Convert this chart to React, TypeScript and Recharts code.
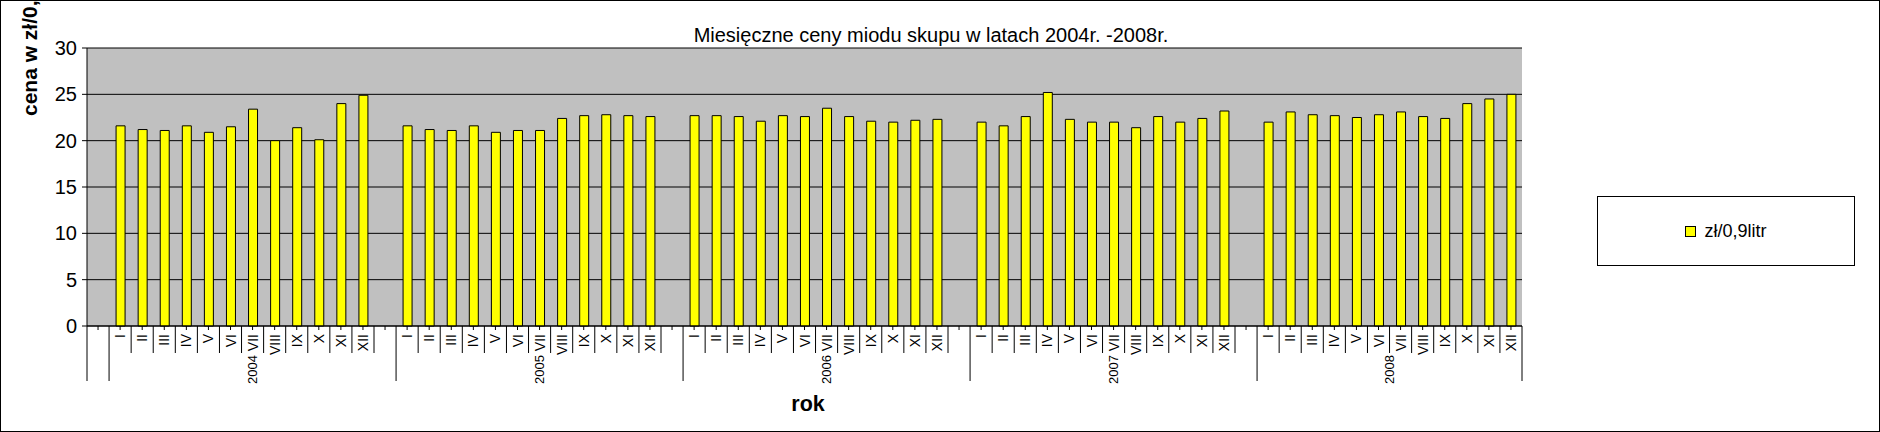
import React from "react";
import { BarChart, Bar, XAxis, YAxis, CartesianGrid, Legend } from "recharts";

// month labels and yearly groups
const MONTHS = ["I", "II", "III", "IV", "V", "VI", "VII", "VIII", "IX", "X", "XI", "XII"];
const YEARS = ["2004", "2005", "2006", "2007", "2008"];

// price in zł per 0.9 l
const PRICE_2004 = [21.6, 21.2, 21.1, 21.6, 20.9, 21.5, 23.4, 20.0, 21.4, 20.1, 24.0, 24.9];
const PRICE_2005 = [21.6, 21.2, 21.1, 21.6, 20.9, 21.1, 21.1, 22.4, 22.7, 22.8, 22.7, 22.6];
const PRICE_2006 = [22.7, 22.7, 22.6, 22.1, 22.7, 22.6, 23.5, 22.6, 22.1, 22.0, 22.2, 22.3];
const PRICE_2007 = [22.0, 21.6, 22.6, 25.2, 22.3, 22.0, 22.0, 21.4, 22.6, 22.0, 22.4, 23.2];
const PRICE_2008 = [22.0, 23.1, 22.8, 22.7, 22.5, 22.8, 23.1, 22.6, 22.4, 24.0, 24.5, 25.0];
const PRICES = [PRICE_2004, PRICE_2005, PRICE_2006, PRICE_2007, PRICE_2008];

const Y_TICKS = [0, 5, 10, 15, 20, 25, 30];

const TITLE = "Miesięczne ceny miodu skupu w latach 2004r. -2008r.";
const Y_TITLE = "cena w zł/0,9 litr";
const X_TITLE = "rok";
const SERIES_NAME = "zł/0,9litr";

const CHART_W = 1880;
const CHART_H = 432;
const MARGIN = { top: 48, right: 358, bottom: 46, left: 27 };
const Y_AXIS_W = 60;
const X_AXIS_H = 60;
const FONT = '"Liberation Sans", Arial, Helvetica, sans-serif';

type Row = { idx: number; month: string; group: string; value: number | null };

// one blank category in front, then each year with a blank slot after it (spreadsheet layout)
const rows: Row[] = [{ idx: 0, month: "", group: "", value: null }];
YEARS.forEach((year, yi) => {
  MONTHS.forEach((m, mi) => {
    rows.push({ idx: rows.length, month: m, group: year, value: PRICES[yi][mi] });
  });
  if (yi < YEARS.length - 1) rows.push({ idx: rows.length, month: "", group: year, value: null });
});

const PLOT_W = CHART_W - MARGIN.left - Y_AXIS_W - MARGIN.right;
const BAND = PLOT_W / rows.length;

const CategoryTick = (props: any) => {
  const { x, y, payload } = props;
  const i = Number(payload.value);
  const row = rows[i];
  if (!row) return null;
  const left = x - BAND / 2;
  const right = x + BAND / 2;
  const groupStart = i === 0 || rows[i - 1].group !== row.group;
  const prevHasMonth = i > 0 && rows[i - 1].month !== "";
  const isLast = i === rows.length - 1;

  let groupLen = 0;
  if (groupStart) {
    for (let j = i; j < rows.length && rows[j].group === row.group; j++) groupLen++;
  }
  const groupMid = left + (groupLen * BAND) / 2;

  return (
    <g>
      <line x1={x} y1={y} x2={x} y2={y + 4} stroke="#000" />
      {groupStart ? (
        <line x1={left} y1={y} x2={left} y2={y + 55} stroke="#000" />
      ) : prevHasMonth ? (
        <line x1={left} y1={y} x2={left} y2={y + 27} stroke="#000" />
      ) : null}
      {isLast && <line x1={right} y1={y} x2={right} y2={y + 55} stroke="#000" />}
      {row.month && (
        <text
          x={x}
          y={y + 8}
          transform={`rotate(-90, ${x}, ${y + 8})`}
          textAnchor="end"
          dominantBaseline="central"
          fontSize={14}
          fill="#000"
          fontFamily={FONT}
        >
          {row.month}
        </text>
      )}
      {groupStart && row.group && (
        <text
          x={groupMid}
          y={y + 29}
          transform={`rotate(-90, ${groupMid}, ${y + 29})`}
          textAnchor="end"
          dominantBaseline="central"
          fontSize={13}
          fill="#000"
          fontFamily={FONT}
        >
          {row.group}
        </text>
      )}
    </g>
  );
};

const renderLegend = (props: any) => {
  const items = props.payload || [];
  return (
    <div
      style={{
        width: "100%",
        height: "100%",
        boxSizing: "border-box",
        border: "1px solid #000",
        background: "#fff",
        display: "flex",
        alignItems: "center",
        justifyContent: "center",
        fontFamily: FONT,
      }}
    >
      {items.map((it: any) => (
        <div key={it.value} style={{ display: "flex", alignItems: "center" }}>
          <span
            style={{
              display: "inline-block",
              width: 11,
              height: 11,
              boxSizing: "border-box",
              border: "1px solid #000",
              background: it.color,
              marginRight: 8,
            }}
          />
          <span style={{ fontSize: 18, color: "#000", lineHeight: "20px" }}>{it.value}</span>
        </div>
      ))}
    </div>
  );
};

export default function App() {
  return (
    <div style={{ position: "relative", width: CHART_W, height: CHART_H, fontFamily: FONT, background: "#fff" }}>
      <style>{"body{margin:0}"}</style>
      <BarChart width={CHART_W} height={CHART_H} data={rows} margin={MARGIN}>
        <CartesianGrid vertical={false} stroke="#000" fill="#c0c0c0" fillOpacity={1} />
        <XAxis
          dataKey="idx"
          type="category"
          interval={0}
          height={X_AXIS_H}
          axisLine={{ stroke: "#000" }}
          tickLine={false}
          tickSize={0}
          tickMargin={0}
          tick={(p: any) => <CategoryTick {...p} />}
        />
        <YAxis
          domain={[0, 30]}
          ticks={Y_TICKS}
          width={Y_AXIS_W}
          axisLine={{ stroke: "#000" }}
          tickLine={{ stroke: "#000" }}
          tickSize={5}
          tickMargin={5}
          tick={{ fontSize: 20, fill: "#000", fontFamily: FONT }}
        />
        <YAxis yAxisId="edge" orientation="right" width={0} tick={false} axisLine={{ stroke: "#808080" }} domain={[0, 30]} />
        <Legend
          layout="horizontal"
          verticalAlign="middle"
          align="center"
          content={renderLegend}
          wrapperStyle={{ left: 1597, top: 196, width: 258, height: 70 }}
        />
        <Bar
          dataKey="value"
          name={SERIES_NAME}
          fill="#ffff00"
          stroke="#000"
          strokeWidth={1}
          barSize={9}
          isAnimationActive={false}
        />
      </BarChart>
      <svg
        width={CHART_W}
        height={CHART_H}
        style={{ position: "absolute", left: 0, top: 0, pointerEvents: "none" }}
      >
        <text x={931} y={42} textAnchor="middle" fontSize={20} fill="#000" fontFamily={FONT}>
          {TITLE}
        </text>
        <text
          x={37}
          y={116}
          transform="rotate(-90, 37, 116)"
          textAnchor="start"
          fontSize={21}
          fontWeight="bold"
          fill="#000"
          fontFamily={FONT}
        >
          {Y_TITLE}
        </text>
        <text x={808} y={411} textAnchor="middle" fontSize={21.5} fontWeight="bold" fill="#000" fontFamily={FONT}>
          {X_TITLE}
        </text>
        <rect x={0.5} y={0.5} width={CHART_W - 1} height={CHART_H - 1} fill="none" stroke="#000" />
      </svg>
    </div>
  );
}
